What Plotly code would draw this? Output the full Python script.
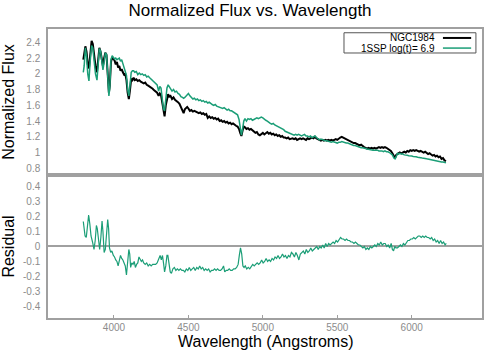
import plotly.graph_objects as go
from plotly.subplots import make_subplots

# spectrum (wavelength in Angstroms)
wavelength = [3794, 3800, 3808, 3816, 3824, 3832, 3840, 3850, 3858, 3866, 3876, 3886, 3894, 3902, 3910, 3918,
              3926, 3934, 3942, 3950, 3958, 3966, 3972, 3980, 3988, 3996, 4004, 4012, 4020, 4028, 4036, 4044,
              4052, 4060, 4068, 4076, 4084, 4092, 4100, 4108, 4116, 4124, 4132, 4140, 4150, 4160, 4170, 4180,
              4190, 4200, 4210, 4220, 4230, 4240, 4250, 4260, 4270, 4280, 4290, 4300, 4308, 4316, 4324, 4332,
              4340, 4348, 4356, 4364, 4372, 4380, 4390, 4400, 4410, 4420, 4430, 4440, 4450, 4460, 4468, 4476,
              4484, 4492, 4500, 4510, 4520, 4530, 4540, 4550, 4560, 4570, 4580, 4590, 4600, 4610, 4620, 4630,
              4640, 4650, 4660, 4670, 4680, 4690, 4700, 4710, 4720, 4730, 4740, 4750, 4760, 4770, 4780, 4790,
              4800, 4810, 4820, 4830, 4840, 4848, 4856, 4864, 4872, 4880, 4890, 4900, 4910, 4920, 4930, 4940,
              4950, 4960, 4970, 4980, 4990, 5000, 5010, 5020, 5030, 5040, 5050, 5060, 5070, 5080, 5090, 5100,
              5110, 5120, 5130, 5140, 5150, 5160, 5170, 5180, 5190, 5200, 5210, 5220, 5230, 5240, 5250, 5260,
              5270, 5280, 5290, 5300, 5310, 5320, 5330, 5340, 5350, 5360, 5370, 5380, 5390, 5400, 5410, 5420,
              5430, 5440, 5450, 5460, 5470, 5480, 5490, 5500, 5510, 5520, 5530, 5540, 5550, 5560, 5570, 5580,
              5590, 5600, 5610, 5620, 5630, 5640, 5650, 5660, 5670, 5680, 5690, 5700, 5710, 5720, 5730, 5740,
              5750, 5760, 5770, 5780, 5790, 5800, 5810, 5820, 5830, 5840, 5850, 5860, 5870, 5880, 5888, 5896,
              5904, 5912, 5920, 5930, 5940, 5950, 5960, 5970, 5980, 5990, 6000, 6010, 6020, 6030, 6040, 6050,
              6060, 6070, 6080, 6090, 6100, 6110, 6120, 6130, 6140, 6150, 6160, 6170, 6180, 6190, 6200, 6210,
              6220, 6230]

flux_ngc = [2.18, 2.28, 2.35, 2.28, 2.12, 2.07, 2.25, 2.42, 2.38, 2.22, 2.10, 2.02, 2.20, 2.33, 2.28, 2.18,
            2.10, 2.20, 2.27, 2.24, 2.05, 1.76, 1.85, 2.15, 2.21, 2.19, 2.17, 2.12, 2.15, 2.08, 2.10, 2.04,
            2.06, 2.02, 1.99, 2.00, 1.92, 1.76, 1.68, 1.80, 1.94, 1.92, 1.95, 1.92, 1.93, 1.91, 1.92, 1.90,
            1.89, 1.88, 1.89, 1.86, 1.85, 1.84, 1.82, 1.81, 1.79, 1.78, 1.76, 1.72, 1.75, 1.73, 1.62, 1.50,
            1.46, 1.60, 1.70, 1.74, 1.71, 1.72, 1.68, 1.70, 1.67, 1.66, 1.64, 1.62, 1.58, 1.55, 1.50, 1.55,
            1.57, 1.58, 1.56, 1.53, 1.54, 1.52, 1.53, 1.52, 1.51, 1.50, 1.51, 1.49, 1.50, 1.48, 1.49, 1.44,
            1.46, 1.44, 1.45, 1.43, 1.44, 1.42, 1.43, 1.40, 1.41, 1.39, 1.40, 1.38, 1.39, 1.37, 1.38, 1.36,
            1.37, 1.35, 1.34, 1.33, 1.30, 1.25, 1.21, 1.28, 1.33, 1.32, 1.30, 1.31, 1.29, 1.30, 1.28, 1.27,
            1.25, 1.26, 1.23, 1.22, 1.24, 1.25, 1.23, 1.25, 1.26, 1.24, 1.25, 1.23, 1.24, 1.22, 1.23, 1.21,
            1.22, 1.20, 1.21, 1.19, 1.19, 1.18, 1.19, 1.17, 1.18, 1.18, 1.17, 1.18, 1.16, 1.17, 1.18, 1.17,
            1.18, 1.17, 1.16, 1.18, 1.17, 1.18, 1.19, 1.18, 1.20, 1.18, 1.17, 1.16, 1.15, 1.16, 1.15, 1.16,
            1.15, 1.16, 1.15, 1.16, 1.15, 1.16, 1.17, 1.16, 1.18, 1.19, 1.20, 1.19, 1.18, 1.17, 1.16, 1.14,
            1.14, 1.13, 1.12, 1.12, 1.11, 1.10, 1.09, 1.10, 1.08, 1.07, 1.06, 1.05, 1.06, 1.05, 1.06, 1.05,
            1.06, 1.05, 1.06, 1.07, 1.06, 1.07, 1.06, 1.07, 1.06, 1.05, 1.04, 1.02, 0.99, 0.95, 0.93, 0.97,
            0.98, 0.99, 1.00, 0.99, 1.00, 1.01, 1.00, 1.02, 1.01, 1.03, 1.02, 1.03, 1.02, 1.03, 1.02, 1.01,
            1.02, 1.01, 1.00, 1.01, 0.99, 0.98, 0.99, 0.97, 0.96, 0.97, 0.95, 0.96, 0.94, 0.95, 0.92, 0.93,
            0.90, 0.89]

flux_ssp = [2.02, 2.10, 2.33, 2.22, 2.00, 1.91, 2.15, 2.36, 2.33, 2.15, 2.00, 1.92, 2.12, 2.32, 2.29, 2.17,
            2.05, 2.15, 2.26, 2.25, 2.02, 1.72, 1.82, 2.18, 2.23, 2.21, 2.19, 2.20, 2.18, 2.19, 2.20, 2.16,
            2.18, 2.13, 2.08, 2.05, 1.98, 1.80, 1.72, 1.86, 2.02, 2.04, 2.04, 2.02, 2.03, 1.99, 2.01, 1.99,
            2.00, 1.98, 1.99, 1.96, 1.97, 1.95, 1.93, 1.92, 1.90, 1.88, 1.86, 1.78, 1.84, 1.82, 1.68, 1.56,
            1.53, 1.68, 1.82, 1.86, 1.83, 1.82, 1.78, 1.80, 1.77, 1.78, 1.75, 1.74, 1.71, 1.70, 1.69, 1.70,
            1.72, 1.74, 1.75, 1.72, 1.70, 1.68, 1.69, 1.67, 1.68, 1.66, 1.67, 1.65, 1.66, 1.64, 1.65, 1.63,
            1.64, 1.62, 1.61, 1.60, 1.61, 1.59, 1.58, 1.58, 1.57, 1.56, 1.57, 1.55, 1.54, 1.55, 1.53, 1.53,
            1.52, 1.51, 1.50, 1.48, 1.42, 1.32, 1.22, 1.30, 1.40, 1.43, 1.40, 1.43, 1.42, 1.43, 1.41, 1.42,
            1.43, 1.44, 1.43, 1.44, 1.45, 1.44, 1.42, 1.41, 1.40, 1.38, 1.37, 1.36, 1.37, 1.35, 1.34, 1.33,
            1.32, 1.31, 1.31, 1.29, 1.27, 1.26, 1.25, 1.24, 1.24, 1.23, 1.22, 1.23, 1.22, 1.23, 1.22, 1.21,
            1.22, 1.23, 1.21, 1.21, 1.20, 1.21, 1.19, 1.20, 1.21, 1.19, 1.18, 1.16, 1.17, 1.16, 1.16, 1.15,
            1.15, 1.14, 1.14, 1.13, 1.14, 1.13, 1.13, 1.12, 1.13, 1.13, 1.14, 1.13, 1.13, 1.12, 1.12, 1.11,
            1.10, 1.10, 1.09, 1.09, 1.08, 1.07, 1.07, 1.06, 1.06, 1.05, 1.05, 1.045, 1.04, 1.04, 1.035, 1.03,
            1.03, 1.03, 1.03, 1.02, 1.02, 1.02, 1.01, 1.02, 1.01, 1.01, 1.00, 0.99, 0.97, 0.93, 0.92, 0.95,
            0.99, 0.98, 0.99, 0.98, 0.98, 0.97, 0.97, 0.965, 0.96, 0.96, 0.955, 0.95, 0.95, 0.945, 0.94, 0.94,
            0.935, 0.93, 0.93, 0.925, 0.92, 0.915, 0.91, 0.91, 0.905, 0.90, 0.90, 0.895, 0.89, 0.885, 0.88, 0.88,
            0.875, 0.87]

res_wavelength = [3794, 3800, 3806, 3814, 3822, 3830, 3838, 3846, 3856, 3866, 3874, 3882, 3888, 3896, 3904, 3912,
                  3920, 3926, 3934, 3942, 3950, 3958, 3964, 3970, 3978, 3986, 3996, 4004, 4012, 4020, 4028, 4036,
                  4044, 4052, 4060, 4068, 4076, 4084, 4092, 4100, 4106, 4112, 4120, 4128, 4136, 4144, 4152, 4160,
                  4168, 4176, 4184, 4192, 4200, 4210, 4220, 4230, 4240, 4250, 4260, 4270, 4280, 4290, 4300, 4310,
                  4318, 4326, 4334, 4340, 4348, 4356, 4362, 4370, 4378, 4386, 4396, 4406, 4416, 4426, 4436, 4446,
                  4456, 4466, 4476, 4486, 4496, 4506, 4516, 4526, 4536, 4546, 4556, 4566, 4576, 4586, 4596, 4606,
                  4616, 4626, 4636, 4646, 4656, 4666, 4676, 4686, 4696, 4706, 4716, 4726, 4736, 4744, 4754, 4764,
                  4774, 4784, 4794, 4804, 4814, 4824, 4834, 4842, 4850, 4858, 4866, 4874, 4882, 4892, 4902, 4912,
                  4922, 4932, 4942, 4952, 4962, 4972, 4982, 4992, 5002, 5012, 5022, 5032, 5042, 5052, 5062, 5072,
                  5082, 5092, 5102, 5112, 5122, 5132, 5142, 5152, 5162, 5172, 5182, 5192, 5202, 5212, 5222, 5232,
                  5242, 5252, 5262, 5272, 5282, 5292, 5302, 5312, 5322, 5332, 5342, 5352, 5362, 5372, 5382, 5392,
                  5402, 5412, 5422, 5432, 5442, 5452, 5462, 5472, 5482, 5492, 5502, 5512, 5522, 5532, 5542, 5552,
                  5562, 5572, 5582, 5592, 5602, 5612, 5622, 5632, 5642, 5652, 5662, 5672, 5682, 5692, 5702, 5712,
                  5722, 5732, 5742, 5752, 5762, 5772, 5782, 5792, 5802, 5812, 5822, 5832, 5842, 5852, 5862, 5870,
                  5878, 5886, 5894, 5904, 5914, 5924, 5934, 5944, 5954, 5964, 5974, 5984, 5994, 6004, 6014, 6024,
                  6034, 6044, 6054, 6064, 6074, 6084, 6094, 6104, 6114, 6124, 6134, 6144, 6154, 6164, 6174, 6184,
                  6194, 6204, 6214, 6224, 6232]

residual = [0.167, 0.11, 0.07, 0.06, 0.12, 0.21, 0.15, 0.07, 0.03, -0.02, 0.04, 0.14, 0.12, 0.02, -0.02, 0.06,
            0.17, 0.10, -0.04, -0.02, 0.08, 0.18, 0.12, -0.01, -0.04, -0.03, -0.06, -0.07, -0.09, -0.10, -0.13, -0.10,
            -0.06, -0.08, -0.09, -0.11, -0.13, -0.19, -0.10, -0.02, -0.05, -0.14, -0.11, -0.12, -0.10, -0.14, -0.12, -0.11,
            -0.07, -0.09, -0.10, -0.09, -0.11, -0.12, -0.11, -0.13, -0.12, -0.13, -0.12, -0.12, -0.12, -0.11, -0.08, -0.06,
            -0.09, -0.06, -0.12, -0.17, -0.13, -0.06, -0.06, -0.12, -0.17, -0.18, -0.15, -0.14, -0.16, -0.15, -0.16, -0.15,
            -0.16, -0.16, -0.17, -0.15, -0.16, -0.14, -0.16, -0.15, -0.14, -0.16, -0.14, -0.15, -0.13, -0.15, -0.14, -0.16,
            -0.15, -0.16, -0.15, -0.17, -0.16, -0.16, -0.15, -0.16, -0.15, -0.16, -0.16, -0.15, -0.13, -0.17, -0.16, -0.16,
            -0.15, -0.16, -0.16, -0.15, -0.15, -0.14, -0.12, -0.06, -0.01, -0.05, -0.13, -0.14, -0.13, -0.15, -0.14, -0.15,
            -0.13, -0.12, -0.13, -0.12, -0.11, -0.12, -0.11, -0.09, -0.11, -0.10, -0.08, -0.10, -0.09, -0.10, -0.08, -0.09,
            -0.07, -0.08, -0.06, -0.08, -0.07, -0.05, -0.07, -0.06, -0.08, -0.06, -0.07, -0.04, -0.05, -0.07, -0.04, -0.06,
            -0.09, -0.05, -0.04, -0.03, -0.05, -0.02, -0.04, -0.03, -0.01, -0.03, -0.02, -0.01, 0.00, -0.02, 0.00, -0.01,
            0.01, -0.01, 0.02, 0.00, 0.02, 0.01, 0.02, 0.03, 0.02, 0.04, 0.03, 0.05, 0.06, 0.05, 0.05, 0.04,
            0.05, 0.04, 0.04, 0.03, 0.03, 0.02, 0.03, 0.02, 0.01, 0.01, 0.00, -0.01, 0.00, -0.02, -0.01, -0.02,
            0.00, -0.01, 0.00, 0.01, 0.00, 0.02, 0.01, 0.03, 0.01, 0.02, 0.02, 0.00, 0.01, -0.01, 0.02, -0.02,
            -0.03, 0.00, -0.01, -0.01, 0.00, 0.01, 0.00, 0.02, 0.01, 0.03, 0.04, 0.04, 0.05, 0.05, 0.06, 0.05,
            0.06, 0.07, 0.07, 0.06, 0.07, 0.06, 0.07, 0.06, 0.06, 0.05, 0.06, 0.04, 0.05, 0.03, 0.04, 0.02,
            0.04, 0.02, 0.03, 0.01, 0.02]

flux_ticks = [0.8, 1.0, 1.2, 1.4, 1.6, 1.8, 2.0, 2.2, 2.4]
res_ticks = [-0.4, -0.3, -0.2, -0.1, 0, 0.1, 0.2, 0.3, 0.4]
wl_ticks = [4000, 4500, 5000, 5500, 6000]

GREEN = "#1b9e77"
FRAME = "#a0a0a0"
TICKC = "#8c8c8c"
FONT = "Liberation Sans, Arial, sans-serif"

fig = make_subplots(rows=2, cols=1, shared_xaxes=True, vertical_spacing=0, row_heights=[0.505, 0.495])

fig.add_trace(go.Scatter(x=wavelength, y=flux_ngc, mode="lines", name="NGC1984",
                         line=dict(color="black", width=2.0)), row=1, col=1)
fig.add_trace(go.Scatter(x=wavelength, y=flux_ssp, mode="lines", name="1SSP log(t)= 6.9",
                         line=dict(color=GREEN, width=1.5)), row=1, col=1)
fig.add_trace(go.Scatter(x=res_wavelength, y=residual, mode="lines",
                         line=dict(color=GREEN, width=1.2)), row=2, col=1)

axis_common = dict(showline=True, linecolor=FRAME, linewidth=1.5, mirror=True, showgrid=False,
                   zeroline=False, automargin=False, tickfont=dict(family=FONT, size=10, color=TICKC))

fig.update_xaxes(range=[3557, 6472], **axis_common)
fig.update_xaxes(showticklabels=False, ticks="", row=1, col=1)
fig.update_xaxes(tickvals=wl_ticks, ticks="inside", ticklen=3, tickcolor=FRAME, ticklabelstandoff=-1,
                 row=2, col=1)

fig.update_yaxes(**axis_common)
fig.update_yaxes(range=[0.715, 2.57], tickvals=flux_ticks, ticks="", ticklabelstandoff=4,
                 title=dict(text="Normalized Flux", font=dict(family=FONT, size=16, color="black"), standoff=12),
                 row=1, col=1)
fig.update_yaxes(range=[-0.478, 0.478], tickvals=res_ticks, ticktext=[f"{v:g}" for v in res_ticks],
                 ticks="", ticklabelstandoff=4, zeroline=True, zerolinecolor=FRAME, zerolinewidth=1.5,
                 title=dict(text="Residual", font=dict(family=FONT, size=16, color="black"), standoff=12),
                 row=2, col=1)

# x title sits below the tick labels, near the bottom edge like the original
fig.add_annotation(xref="paper", yref="paper", x=0.5, y=-0.083, yanchor="middle", showarrow=False,
                   text="Wavelength (Angstroms)", font=dict(family=FONT, size=16, color="black"))

# legend box in the upper right, key lines drawn to the right of the labels
fig.add_shape(type="rect", xref="paper", yref="paper", x0=0.682, x1=0.986, y0=0.917, y1=0.987,
              line=dict(color="#555555", width=1), fillcolor="white")
legend_rows = [("NGC1984", "black", 2.0, 0.969), ("1SSP log(t)= 6.9", GREEN, 1.5, 0.934)]
for label, col, w, yy in legend_rows:
    fig.add_annotation(xref="paper", yref="paper", x=0.897, y=yy, text=label, showarrow=False,
                       xanchor="right", yanchor="middle", font=dict(family=FONT, size=10, color="black"))
    fig.add_shape(type="line", xref="paper", yref="paper", x0=0.910, x1=0.975, y0=yy, y1=yy,
                  line=dict(color=col, width=w))

fig.update_layout(
    width=500, height=350,
    margin=dict(l=48, r=18, t=29, b=32),
    paper_bgcolor="white", plot_bgcolor="white",
    showlegend=False,
    title=dict(text="Normalized Flux vs. Wavelength", x=0.5, xanchor="center", y=0.972, yanchor="middle",
               font=dict(family=FONT, size=17, color="black")),
)

# drop the default page margin so the 500x350 figure fills the window
fig.write_html("out.html", config={"displayModeBar": False},
               post_script="document.body.style.margin='0';")
